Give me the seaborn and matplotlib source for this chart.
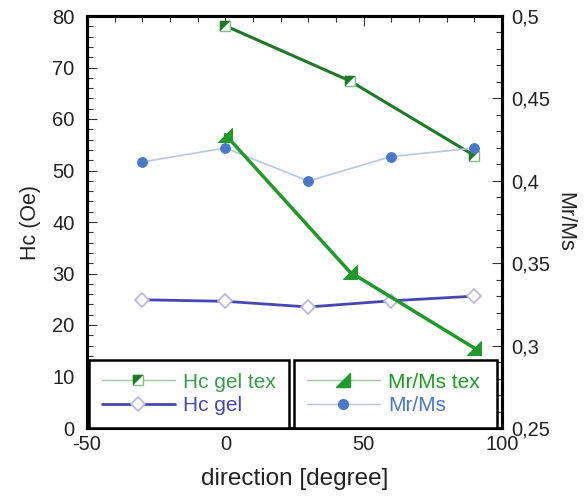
import matplotlib
matplotlib.use("Agg")
import matplotlib.pyplot as plt
import seaborn as sns
import numpy as np
import pandas as pd
from matplotlib.path import Path
from matplotlib.ticker import MultipleLocator, FuncFormatter
from matplotlib.lines import Line2D
from matplotlib.legend_handler import HandlerTuple

# ---- data ----
hc_tex_x = [0, 45, 90]
hc_tex_y = [78.1, 67.4, 52.9]
hc_gel_x = [-30, 0, 30, 60, 90]
hc_gel_y = [24.9, 24.6, 23.5, 24.7, 25.6]
mr_tex_x = [0, 45, 90]
mr_tex_y = [0.428, 0.3447, 0.2985]
mr_x = [-30, 0, 30, 60, 90]
mr_y = [0.4114, 0.4199, 0.3999, 0.4147, 0.4199]

sns.set_theme(style="white")
plt.rcParams['font.family'] = ['Liberation Sans', 'DejaVu Sans']
plt.rcParams['axes.unicode_minus'] = False

DARK_GREEN = "#1c7a24"
GREEN_TXT = "#3a9a4c"
GREEN_TRI = "#1f9a2a"
INDIGO = "#4646b4"
LAV = "#b8b4d8"
BLUE = "#4a78c8"
LBLUE = "#b8c6e0"

tri = Path([(-1, -1), (1, -1), (1, 1), (-1, -1)],
           [Path.MOVETO, Path.LINETO, Path.LINETO, Path.CLOSEPOLY])
half_sq = Path([(-1, -1), (-1, 1), (1, 1), (-1, -1)],
               [Path.MOVETO, Path.LINETO, Path.LINETO, Path.CLOSEPOLY])

fig = plt.figure(figsize=(5.85, 4.96), dpi=100)
ax = fig.add_axes([87/585, 1-428/496, (502-87)/585, (428-16)/496])
ax2 = ax.twinx()

df_hct = pd.DataFrame({"x": hc_tex_x, "y": hc_tex_y})
df_hcg = pd.DataFrame({"x": hc_gel_x, "y": hc_gel_y})
df_mrt = pd.DataFrame({"x": mr_tex_x, "y": mr_tex_y})
df_mr = pd.DataFrame({"x": mr_x, "y": mr_y})

# Hc gel (left axis)
sns.lineplot(data=df_hcg, x="x", y="y", ax=ax, color=INDIGO, lw=2,
             marker="D", ms=7.5, mfc="white", mec=LAV, mew=1.2, zorder=3)
# Hc gel tex
sns.lineplot(data=df_hct, x="x", y="y", ax=ax, color=DARK_GREEN, lw=2.2,
             marker="s", ms=7.5, mfc="white", mec="#7cbf84", mew=1.0, zorder=4)
sns.lineplot(data=df_hct, x="x", y="y", ax=ax, color=DARK_GREEN, lw=0,
             marker=half_sq, ms=7.5, mfc=DARK_GREEN, mec=DARK_GREEN, mew=0.3, zorder=5)

# Mr/Ms (right axis)
sns.lineplot(data=df_mr, x="x", y="y", ax=ax2, color=LBLUE, lw=1.2,
             marker="o", ms=7, mfc=BLUE, mec=BLUE, zorder=3)
sns.lineplot(data=df_mrt, x="x", y="y", ax=ax2, color=GREEN_TRI, lw=2.5,
             marker=tri, ms=10, mfc=GREEN_TRI, mec=GREEN_TRI, zorder=4)

ax.set_xlim(-50, 100)
ax.set_ylim(0, 80)
ax2.set_ylim(0.25, 0.5)

ax.xaxis.set_major_locator(MultipleLocator(50))
ax.xaxis.set_minor_locator(MultipleLocator(10))
ax.yaxis.set_major_locator(MultipleLocator(10))
ax.yaxis.set_minor_locator(MultipleLocator(2))
ax2.yaxis.set_major_locator(MultipleLocator(0.05))
ax2.yaxis.set_minor_locator(MultipleLocator(0.01))
ax2.yaxis.set_major_formatter(FuncFormatter(lambda v, p: f"{v:.2f}".rstrip("0").replace(".", ",")))

ax.tick_params(axis="both", which="both", direction="in", colors="#333333",
               labelcolor="#222222", labelsize=14.5)
ax.tick_params(axis="x", which="both", top=True, bottom=True, pad=5)
ax.tick_params(axis="y", which="both", left=True, right=False, pad=9)
ax.tick_params(which="major", length=7, width=0.8)
ax.tick_params(which="minor", length=4, width=0.8)
ax2.tick_params(axis="y", which="both", direction="in", right=True, left=False,
                colors="#333333", labelcolor="#222222", labelsize=14.5, pad=7)
ax2.tick_params(which="major", length=7, width=0.8)
ax2.tick_params(which="minor", length=4, width=0.8)

for a in (ax, ax2):
    for s in a.spines.values():
        s.set_linewidth(2.2)
        s.set_color("black")
        s.set_visible(True)

ax.set_xlabel("direction [degree]", fontsize=17.5, color="#222222", labelpad=10)
ax.set_ylabel("Hc (Oe)", fontsize=15.5, color="#222222", labelpad=8)
ax2.set_ylabel("Mr/Ms", fontsize=15.5, color="#222222", rotation=270, labelpad=18)

# legends
h_hct = (Line2D([], [], color="#9ccaa4", lw=1.0, marker="s", ms=7, mfc="white",
                mec="#7cbf84", mew=1.0),
         Line2D([], [], color="none", lw=0, marker=half_sq, ms=7, mfc=DARK_GREEN,
                mec=DARK_GREEN, mew=0.3))
h_hcg = Line2D([], [], color=INDIGO, lw=2, marker="D", ms=7, mfc="white", mec=LAV, mew=1.2)
h_mrt = Line2D([], [], color="#9ccaa4", lw=1.0, marker=tri, ms=10, mfc=GREEN_TRI, mec=GREEN_TRI)
h_mr = Line2D([], [], color=LBLUE, lw=1.0, marker="o", ms=7, mfc=BLUE, mec=BLUE)

common = dict(loc="lower left", mode="expand", fontsize=15, handlelength=3.5,
              handletextpad=0.4, labelspacing=0.22, borderpad=0.62, borderaxespad=0,
              fancybox=False, framealpha=1, edgecolor="black",
              handler_map={tuple: HandlerTuple(ndivide=1, pad=0)})
leg1 = ax2.legend([h_hct, h_hcg], ["Hc gel tex", "Hc gel"],
                  bbox_to_anchor=(0.005, 0.0, 0.482, 0.167), **common)
leg1.get_frame().set_linewidth(1.8)
for t, c in zip(leg1.get_texts(), [GREEN_TXT, INDIGO]):
    t.set_color(c)
ax2.add_artist(leg1)
leg2 = ax2.legend([h_mrt, h_mr], ["Mr/Ms tex", "Mr/Ms"],
                  bbox_to_anchor=(0.499, 0.0, 0.489, 0.167), **common)
leg2.get_frame().set_linewidth(1.8)
for t, c in zip(leg2.get_texts(), [GREEN_TRI, BLUE]):
    t.set_color(c)

fig.savefig("out.png", dpi=100, facecolor="white")
